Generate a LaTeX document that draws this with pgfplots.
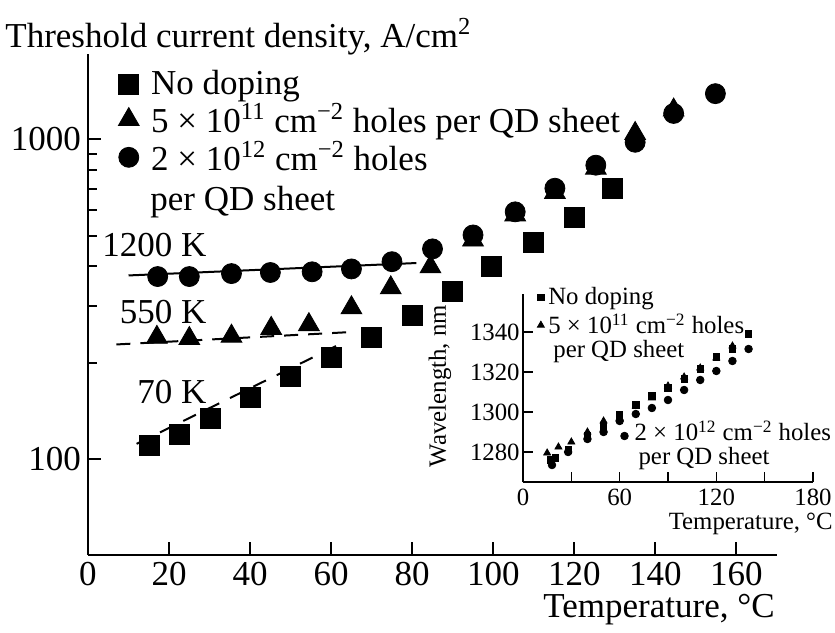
\documentclass[border=0pt]{standalone}
\usepackage{fontspec}
\setmainfont{Liberation Serif}
\usepackage{pgfplots}
\pgfplotsset{compat=1.18}

% Threshold current density (A/cm^2) versus temperature (deg C)
\pgfplotstableread{
T    J
15.2 110.5
22.6 119
30.2 134
40   156
50   181
60   208
70   240
80   281
90   334
99.5 399
110  477
120  571
129.5 703
}\undoped
\pgfplotstableread{
T     J
17    240
25    238
35.4  242
45.2  256
54.5  263
65    297
74.7  343
84.5  399
95    484
105.4 580
115.2 682
125.3 812
135   1043
144.5 1235
}\lowdoped
\pgfplotstableread{
T     J
17.2  372
25    372
35.4  380
45    383
55.3  385
65    393
75    414
85    454
95    502
105.4 593
115.2 703
125.3 830
135   979
144.5 1205
154.8 1390
}\highdoped

% Lasing wavelength (nm) versus temperature (deg C)
\pgfplotstableread{
T    L
17   1276
20   1277
28   1281
40   1288
50   1292.5
60   1298.5
70   1303.5
80   1308
90   1312
100  1316.5
110  1321.5
120  1327.5
130  1331.5
140  1339
}\wlundoped
\pgfplotstableread{
T    L
15   1279.5
22   1282.5
30   1285
40   1290
50   1295.5
60   1297
70   1303
80   1307
90   1313
100  1317.5
110  1322
120  1327
130  1333
}\wllowdoped
\pgfplotstableread{
T    L
18   1273.5
28   1280
40   1286.5
50   1290
60   1295.5
63   1288
70   1299
80   1302
90   1306
100  1311
110  1316
120  1320.5
130  1325.5
140  1331.5
}\wlhighdoped

\begin{document}
\begin{tikzpicture}
\useasboundingbox (-44pt,-38.5pt) rectangle (373.5pt,277.5pt);
\begin{axis}[
  at={(0pt,0pt)}, anchor=south west,
  scale only axis, width=344.5pt, height=250.5pt,
  xmin=0, xmax=170, ymode=log, ymin=50, ymax=1850,
  axis x line*=bottom, axis y line*=left,
  axis line style={line width=1pt,-},
  xtick={0,20,...,160},
  ytick={100,1000}, yticklabels={100,1000},
  tick align=inside,
  major tick length=6.5pt, minor tick length=4.5pt,
  every tick/.style={black, line width=1pt},
  font=\fontsize{17.5}{19.5}\selectfont,
  /pgf/number format/assume math mode=true,
  ylabel={Threshold current density, A/cm\textsuperscript{2}},
  every axis y label/.style={at={(rel axis cs:0,1)}, anchor=west,
    inner sep=0pt, xshift=-41.5pt, yshift=8.75pt},
  xlabel={Temperature, °C},
  every axis x label/.style={at={(rel axis cs:1,0)}, anchor=east,
    inner sep=0pt, xshift=-1pt, yshift=-27.5pt},
  legend style={draw=none, fill=none, at={(rel axis cs:0,1)},
    anchor=north west, xshift=12pt, yshift=-4pt, row sep=-1pt,
    /tikz/every odd column/.append style={column sep=4pt}},
  legend cell align=left,
]
% Arrhenius-type fits, T0 = 1200 K, 550 K and 70 K
\addplot[black, line width=1pt, forget plot] coordinates {(10,375) (81,410)};
\addplot[black, line width=1pt, dash pattern=on 7pt off 5pt, forget plot] coordinates {(7,228) (64,249)};
\addplot[black, line width=1pt, dash pattern=on 7pt off 6pt, forget plot] coordinates {(12,111.4) (62,228)};

\addplot[only marks, mark=square*, mark size=5pt, black] table[x=T,y=J] {\undoped};
\addlegendentry{No doping}
\addplot[only marks, mark=triangle*, mark size=6pt, black] table[x=T,y=J] {\lowdoped};
\addlegendentry{5 × 10\textsuperscript{11} cm\textsuperscript{−2} holes per QD sheet}
\addplot[only marks, mark=*, mark size=5pt, black] table[x=T,y=J] {\highdoped};
\addlegendentry{2 × 10\textsuperscript{12} cm\textsuperscript{−2} holes}

\node[anchor=west, inner sep=0pt] at (rel axis cs:0.09,0.705) {per QD sheet};
\node[anchor=east, inner sep=0pt] at (axis cs:29.3,468) {1200 K};
\node[anchor=east, inner sep=0pt] at (axis cs:29.3,289) {550 K};
\node[anchor=east, inner sep=0pt] at (axis cs:29.3,162) {70 K};
\end{axis}

\begin{axis}[
  at={(217.5pt,36.5pt)}, anchor=south west,
  scale only axis, width=145pt, height=94pt,
  xmin=0, xmax=180, ymin=1265, ymax=1359,
  axis x line*=bottom, axis y line*=left,
  axis line style={line width=0.8pt,-},
  xtick={0,60,120,180}, minor xtick={30,90,150},
  ytick={1280,1300,1320,1340},
  tick align=inside,
  major tick length=5pt, minor tick length=5pt,
  every tick/.style={black, line width=0.8pt},
  font=\fontsize{12.4}{13.75}\selectfont,
  /pgf/number format/assume math mode=true,
  /pgf/number format/set thousands separator={},
  yticklabel style={inner sep=1.5pt},
  ylabel={Wavelength, nm},
  every axis y label/.style={at={(rel axis cs:0,0.51)}, xshift=-41.5pt,
    rotate=90, anchor=center, inner sep=0pt},
  xlabel={Temperature, °C},
  every axis x label/.style={at={(rel axis cs:1,0)}, anchor=east,
    inner sep=0pt, xshift=10pt, yshift=-21pt},
  legend style={draw=none, fill=none, at={(rel axis cs:0,1)},
    anchor=north west, xshift=4pt, yshift=7.5pt, row sep=-1pt},
  legend cell align=left,
  clip=false,
]
\addplot[only marks, mark=square*, mark size=1.6pt, black] table[x=T,y=L] {\wlundoped};
\addlegendentry{No doping}
\addplot[only marks, mark=triangle*, mark size=2pt, black] table[x=T,y=L] {\wllowdoped};
\addlegendentry{5 × 10\textsuperscript{11} cm\textsuperscript{−2} holes}
\addplot[only marks, mark=*, mark size=1.9pt, black, forget plot] table[x=T,y=L] {\wlhighdoped};

\node[anchor=west, inner sep=0pt] at (axis cs:18.6,1330) {per QD sheet};
\node[anchor=west, inner sep=0pt] at (axis cs:69,1290.5) {2 × 10\textsuperscript{12} cm\textsuperscript{−2} holes};
\node[anchor=west, inner sep=0pt] at (axis cs:71.5,1276.5) {per QD sheet};
\end{axis}
\end{tikzpicture}
\end{document}
